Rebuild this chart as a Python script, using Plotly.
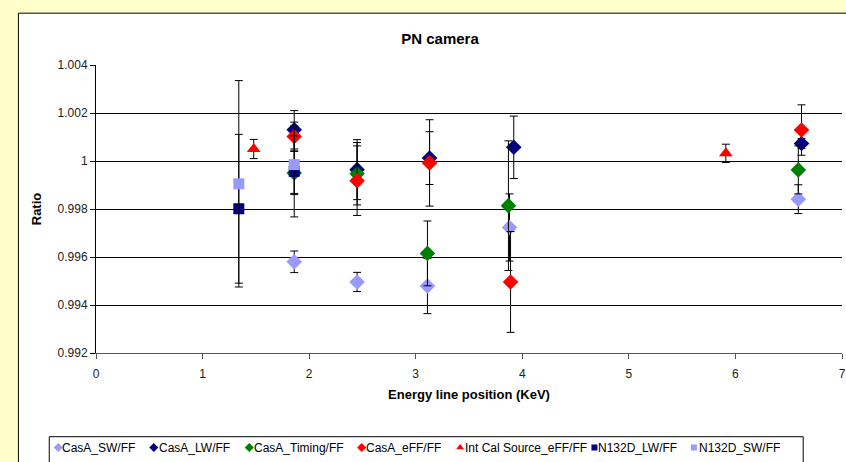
import plotly.graph_objects as go

# ---------------- data ----------------
sw_x = [1.86, 2.45, 3.11, 3.88, 6.59]
sw_y = [0.99580, 0.99496, 0.99479, 0.99723, 0.99841]
sw_e = [0.00045, 0.00040, 0.00115, 0.00140, 0.00060]

lw_x = [1.86, 2.45, 3.13, 3.92, 6.62]
lw_y = [1.00130, 0.99964, 1.00012, 1.00057, 1.00073]
lw_e = [0.00080, 0.00125, 0.00110, 0.00130, 0.00020]

tim_x = [1.86, 2.45, 3.11, 3.87, 6.59]
tim_y = [0.99950, 0.99947, 0.99615, 0.99814, 0.99963]
tim_e = [0.00090, 0.00130, 0.00135, 0.00270, 0.00100]

eff_x = [1.86, 2.45, 3.13, 3.89, 6.62]
eff_y = [1.00102, 0.99918, 0.99992, 0.99496, 1.00129]
eff_e = [0.00060, 0.00145, 0.00180, 0.00210, 0.00105]

cal_x = [1.48, 5.91]
cal_y = [1.00050, 1.00032]
cal_e = [0.00040, 0.00038]

n_lw_x = [1.34, 1.86]
n_lw_y = [0.99801, 0.99957]
n_lw_e = [0.00310, 0.00190]

n_sw_x = [1.34, 1.86]
n_sw_y = [0.99905, 0.99985]
n_sw_e = [0.00430, 0.00120]

y_tickvals = [0.992, 0.994, 0.996, 0.998, 1.0, 1.002, 1.004]
y_ticktext = ["0.992", "0.994", "0.996", "0.998", "1", "1.002", "1.004"]
x_tickvals = [0, 1, 2, 3, 4, 5, 6, 7]

series = [
    ("CasA_SW/FF", sw_x, sw_y, sw_e, "#9999FF", "diamond", 12),
    ("CasA_LW/FF", lw_x, lw_y, lw_e, "#000080", "diamond", 12),
    ("CasA_Timing/FF", tim_x, tim_y, tim_e, "#008000", "diamond", 12),
    ("CasA_eFF/FF", eff_x, eff_y, eff_e, "#FF0000", "diamond", 12),
    ("Int Cal Source_eFF/FF", cal_x, cal_y, cal_e, "#FF0000", "triangle-up", 12),
    ("N132D_LW/FF", n_lw_x, n_lw_y, n_lw_e, "#000080", "square", 11),
    ("N132D_SW/FF", n_sw_x, n_sw_y, n_sw_e, "#9999FF", "square", 11),
]

# ---------------- layout geometry ----------------
W, H = 846, 462
ML, MR, MT, MB = 96, 0, 65, 108
PW = W - ML - MR
PH = H - MT - MB

def px_x(p):
    return (p - ML) / PW

def px_y(p):
    return (H - MB - p) / PH

# legend key positions (key symbol centre, label start) in pixels
legend_key_px = [58, 154, 250, 363, 462, 597, 697]
legend_txt_px = [63, 160, 256, 368, 468, 602, 703]
LEG_Y = 449

FONT = "Arial, Liberation Sans, sans-serif"

fig = go.Figure()
legend_layouts = {}
for i, (name, xs, ys, es, col, sym, sz) in enumerate(series):
    lname = "legend" if i == 0 else f"legend{i + 1}"
    # data trace
    fig.add_trace(go.Scatter(
        x=xs, y=ys, mode="markers", name=name, showlegend=False,
        marker=dict(color=col, symbol=sym, size=sz, line=dict(width=0)),
        error_y=dict(type="data", array=es, visible=True, color="#000000",
                     thickness=1, width=4),
    ))
    # legend key symbol (small, as in the original legend)
    fig.add_trace(go.Scatter(
        x=[None], y=[None], mode="markers", name="", showlegend=True,
        marker=dict(color=col, symbol=sym, size=7 if sym != "square" else 6,
                    line=dict(width=0)),
        legend=lname, legendgroup=name,
    ))
    legend_layouts[lname] = dict(
        x=px_x(legend_key_px[i] - 20), xanchor="left",
        y=px_y(LEG_Y), yanchor="middle",
        orientation="h", bgcolor="rgba(0,0,0,0)", borderwidth=0,
        font=dict(family=FONT, size=12, color="#000"),
        itemwidth=30,
    )
    # legend label
    fig.add_annotation(
        text=name, xref="paper", yref="paper",
        x=px_x(legend_txt_px[i] - 3), y=px_y(LEG_Y),
        xanchor="left", yanchor="middle", showarrow=False,
        font=dict(family=FONT, size=12, color="#000"),
    )

fig.update_layout(
    width=W, height=H,
    margin=dict(l=ML, r=MR, t=MT, b=MB),
    paper_bgcolor="#FFFFFF",
    plot_bgcolor="#FFFFFF",
    font=dict(family=FONT, size=12, color="#222"),
    title=dict(text="PN camera", x=440 / W, xanchor="center",
               y=1 - 39 / H, yanchor="middle",
               font=dict(size=15, color="#000", weight="bold")),
    showlegend=True,
    **legend_layouts,
)

fig.update_xaxes(
    range=[0, 7], tickvals=x_tickvals, showgrid=False, zeroline=False,
    showline=True, linecolor="#555", linewidth=1,
    ticks="outside", ticklen=5, tickcolor="#555", ticklabelstandoff=5,
    ticklabeloverflow="allow",
    tickfont=dict(size=12, color="#222"),
    title=dict(text="Energy line position (KeV)", standoff=9,
               font=dict(size=13, color="#000", weight="bold")),
)
fig.update_yaxes(
    range=[0.992, 1.004], tickvals=y_tickvals, ticktext=y_ticktext,
    showgrid=True, gridcolor="#000", gridwidth=1, zeroline=False,
    showline=True, linecolor="#000", linewidth=1,
    ticks="outside", ticklen=5, tickcolor="#000",
    tickfont=dict(size=12, color="#222"),
    title=dict(text="Ratio", standoff=13,
               font=dict(size=13, color="#000", weight="bold")),
)

# yellow page background around the chart area, chart-area border, legend box
YELLOW = "#FFFFCC"
fig.add_shape(type="rect", xref="paper", yref="paper", layer="below",
              x0=px_x(-5), x1=px_x(18), y0=px_y(-5), y1=px_y(470),
              fillcolor=YELLOW, line=dict(width=0))
fig.add_shape(type="rect", xref="paper", yref="paper", layer="below",
              x0=px_x(-5), x1=px_x(860), y0=px_y(-5), y1=px_y(13),
              fillcolor=YELLOW, line=dict(width=0))
fig.add_shape(type="line", xref="paper", yref="paper", layer="below",
              x0=px_x(18), x1=px_x(18), y0=px_y(13), y1=px_y(470),
              line=dict(color="#000", width=1))
fig.add_shape(type="line", xref="paper", yref="paper", layer="below",
              x0=px_x(18), x1=px_x(860), y0=px_y(13), y1=px_y(13),
              line=dict(color="#000", width=1))
fig.add_shape(type="rect", xref="paper", yref="paper", layer="below",
              x0=px_x(49), x1=px_x(807), y0=px_y(438), y1=px_y(480),
              fillcolor="#FFFFFF", line=dict(color="#000", width=1))

fig.write_html("out.html",
               config={"displayModeBar": False},
               post_script="document.body.style.margin='0px';"
                           "document.body.style.overflow='hidden';")
